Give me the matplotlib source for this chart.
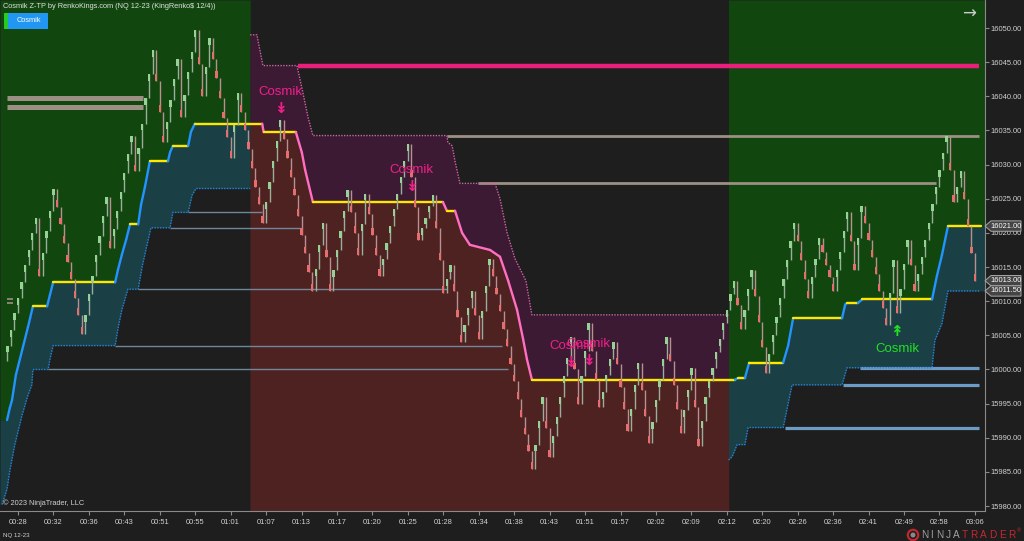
import numpy as np
import matplotlib
matplotlib.use("Agg")
import matplotlib.pyplot as plt
from matplotlib.patches import Rectangle, Polygon, Circle
from matplotlib.collections import LineCollection
import matplotlib.transforms as mtransforms

plt.rcParams['font.family'] = ['Liberation Sans', 'DejaVu Sans']

# ---------------- data ----------------
time_labels = ['00:28', '00:32', '00:36', '00:43', '00:51', '00:55', '01:01', '01:07',
               '01:13', '01:17', '01:20', '01:25', '01:28', '01:34', '01:38', '01:43',
               '01:51', '01:57', '02:02', '02:09', '02:12', '02:20', '02:26', '02:36',
               '02:41', '02:49', '02:58', '03:06']
time_tick_bars = list(range(5, 276, 10))
price_ticks = [15980, 15985, 15990, 15995, 16000, 16005, 16010, 16015, 16020,
               16025, 16030, 16035, 16040, 16045, 16050]

first_bar = 2
first_open = 16001.25
closes = [
    16003.5, 16005.75, 16008.25, 16010.5, 16012.75, 16015.25, 16017.5, 16020.0, 16022.25, 16013.75,
    16017.0, 16020.25, 16023.25, 16026.5, 16023.75, 16021.25, 16018.5, 16015.75, 16013.25, 16010.5,
    16008.0, 16005.25, 16008.0, 16011.0, 16013.75, 16016.75, 16019.5, 16022.5, 16025.25, 16017.75,
    16020.5, 16023.25, 16026.0, 16028.75, 16031.5, 16034.25, 16029.0, 16032.5, 16036.0, 16039.75,
    16043.25, 16046.75, 16042.25, 16037.75, 16033.25, 16036.25, 16039.5, 16042.5, 16045.5, 16037.0,
    16040.25, 16043.5, 16046.5, 16049.75, 16044.75, 16040.0, 16044.25, 16048.5, 16045.5, 16042.75,
    16039.75, 16036.75, 16034.0, 16031.0, 16035.75, 16040.5, 16037.75, 16035.0, 16032.25, 16029.5,
    16026.75, 16024.25, 16021.5, 16024.5, 16027.5, 16030.5, 16033.5, 16036.5, 16033.75, 16031.0,
    16028.25, 16025.5, 16022.5, 16019.75, 16017.0, 16014.25, 16011.5, 16014.75, 16018.25, 16021.5,
    16016.5, 16011.5, 16014.5, 16017.5, 16020.25, 16023.25, 16026.25, 16023.0, 16020.0, 16016.75,
    16021.25, 16025.75, 16022.75, 16019.75, 16016.75, 16013.75, 16016.25, 16018.5, 16021.0, 16023.5,
    16025.75, 16028.25, 16030.5, 16033.0, 16028.25, 16023.75, 16019.0, 16020.75, 16022.25, 16024.0,
    16025.5, 16020.75, 16016.0, 16011.25, 16013.25, 16015.25, 16011.5, 16007.75, 16004.0, 16006.5,
    16009.0, 16011.5, 16008.0, 16004.5, 16008.5, 16012.25, 16016.25, 16013.75, 16011.0, 16008.5,
    16006.0, 16003.5, 16000.75, 15998.25, 15995.75, 15993.0, 15990.5, 15988.0, 15985.5, 15989.0,
    15992.5, 15996.0, 15991.5, 15987.25, 15990.25, 15993.0, 15996.0, 15999.0, 16001.75, 16004.75,
    16000.0, 15995.0, 15999.0, 16002.75, 16006.75, 16002.75, 15998.5, 15994.5, 15996.75, 15999.25,
    16001.5, 16004.0, 16000.75, 15997.5, 15994.25, 15991.0, 15994.25, 15997.75, 16001.0, 15997.0,
    15993.25, 15989.25, 15992.25, 15995.5, 15998.5, 16001.5, 16004.75, 16001.25, 15997.75, 15994.25,
    15990.75, 15994.0, 15997.0, 16000.25, 15994.5, 15988.75, 15992.5, 15996.0, 15998.25, 16000.25,
    16002.5, 16004.5, 16006.75, 16008.75, 16011.0, 16013.0, 16009.5, 16006.0, 16008.75, 16011.75,
    16014.5, 16010.75, 16007.0, 16003.25, 15999.5, 16002.25, 16005.0, 16007.75, 16010.5, 16013.25,
    16016.0, 16018.75, 16021.5, 16018.75, 16016.0, 16013.25, 16010.5, 16013.5, 16016.25, 16019.25,
    16017.25, 16015.25, 16013.5, 16011.5, 16014.5, 16017.25, 16020.25, 16023.0, 16018.75, 16014.5,
    16019.25, 16024.0, 16021.5, 16019.0, 16016.5, 16014.0, 16011.5, 16009.0, 16006.5, 16011.25,
    16016.0, 16008.25, 16011.75, 16015.5, 16019.0, 16015.25, 16011.5, 16014.0, 16016.5, 16019.0,
    16021.5, 16024.25, 16026.75, 16029.25, 16031.75, 16034.25, 16029.25, 16024.5, 16026.75, 16029.0,
    16025.0, 16021.0, 16017.0, 16013.0,
]

# trailing stop line (bar position, price)
stop_x = [1.9, 2.7, 3.3, 4.4, 7.8, 8.4, 9.2, 13.2, 14.0, 14.9, 32.4, 33.2, 34.3, 35.5, 36.6,
          38.9, 39.7, 40.8, 42.2, 47.3, 47.9, 48.7, 53.0, 53.8, 54.9, 73.9, 74.3, 83.4, 85.1,
          86.0, 88.2, 124.9, 126.0, 128.3, 130.3, 132.5, 138.2, 141.0, 143.3, 145.8, 147.5,
          148.6, 150.0, 207.3, 208.2, 210.1, 211.3, 220.9, 222.3, 223.7, 237.5, 238.4, 238.9,
          242.0, 243.2, 262.9, 264.3, 265.7, 267.4, 276.6]
stop_p = [15992.6, 15994.4, 15995.5, 15999.2, 16006.2, 16007.5, 16009.25, 16009.25, 16010.9,
          16012.75, 16012.75, 16014.6, 16016.8, 16019.0, 16021.25, 16021.25, 16024.1, 16026.7,
          16030.5, 16030.5, 16031.8, 16032.75, 16032.75, 16034.8, 16036.0, 16036.0, 16034.75,
          16034.75, 16031.75, 16029.25, 16024.5, 16024.5, 16023.25, 16023.25, 16020.0, 16018.25,
          16017.5, 16016.5, 16013.0, 16008.75, 16004.5, 16001.5, 15998.5, 15998.5, 15998.75,
          15998.75, 16001.0, 16001.0, 16003.5, 16007.5, 16007.5, 16009.5, 16009.75, 16009.75,
          16010.25, 16010.25, 16013.75, 16016.75, 16021.0, 16021.0]

# outer band, bullish left
bandL_x = [0.5, 1.9, 2.7, 4.1, 6.1, 7.8, 8.9, 9.2, 13.5, 14.0, 14.9, 32.4, 33.2, 34.3, 36.0,
           38.9, 40.0, 41.4, 42.5, 47.9, 48.7, 53.0, 54.1, 55.2, 70.5]
bandL_p = [15980.25, 15982.5, 15985.25, 15989.0, 15993.25, 15996.25, 15997.75, 16000.0,
           16000.0, 16001.5, 16003.5, 16003.5, 16006.0, 16008.75, 16011.75, 16011.75, 16015.0,
           16018.25, 16020.75, 16020.75, 16023.0, 16023.0, 16025.5, 16026.5, 16026.5]
# outer band, bearish middle
bandM_x = [70.5, 72.4, 74.1, 83.7, 85.4, 86.8, 88.2, 126.0, 126.3, 127.5, 128.3, 129.7, 139.6,
           141.0, 143.0, 145.2, 148.3, 150.0, 205.5]
bandM_p = [16049.0, 16049.0, 16044.5, 16044.5, 16040.5, 16037.0, 16034.25, 16034.25, 16033.25,
           16032.75, 16030.5, 16027.25, 16027.25, 16025.0, 16020.0, 16016.25, 16013.0, 16008.0,
           16008.0]
# outer band, bullish right
bandR_x = [205.5, 206.5, 207.9, 210.1, 211.0, 220.9, 223.4, 237.5, 238.9, 262.9, 263.7, 265.7,
           267.4, 276.6]
bandR_p = [15986.75, 15987.25, 15989.0, 15989.0, 15991.5, 15991.5, 15997.75, 15997.75,
           16000.25, 16000.25, 16004.25, 16006.75, 16011.5, 16011.5]

regime_switch = [70.5, 205.5]   # bull -> bear -> bull

# support / resistance levels
thin_lv_p = [16000.0, 16003.5, 16011.75, 16020.75, 16023.0]
thin_lv_start = [13.5, 32.4, 38.9, 47.9, 53.0]
thin_lv_end = [143.3, 141.6, 126.0, 84.6, 73.8]

blue_lv_p = [16000.25, 15997.75, 15991.5]
blue_lv_start = [242.6, 237.8, 221.4]
blue_lv_end = [276.2, 276.2, 276.2]

tan_lv_p = [16039.75, 16038.5, 16034.25, 16027.25, 16010.25, 16009.75]
tan_lv_start = [1.9, 1.9, 126.0, 134.8, 1.9, 1.9]
tan_lv_end = [40.3, 40.3, 276.2, 264.0, 3.6, 3.6]

pink_lv_p = [16044.5]
pink_lv_start = [84.0]
pink_lv_end = [276.2]

# signals
sig_bars = [79, 116, 161, 166, 253]
sig_price = [16038.25, 16026.75, 16001.0, 16001.25, 16005.5]
sig_up = [False, False, False, False, True]

price_tags = [16021.00, 16013.00, 16011.50]

# ---------------- style ----------------
BG = '#1e1e1e'
GREEN = '#11470f'
TEAL = '#1a4046'
PURPLE = '#3c1a33'
MAROON = '#4f2222'
W, H = 1024, 541
AX_W, AX_H = 985, 511
YLIM = (15979.28, 16054.10)
XLIM = (-0.085, 277.85)
BODY = 1.0
SMALL = 5.4

fig = plt.figure(figsize=(W / 100, H / 100), dpi=100, facecolor=BG)
ax = fig.add_axes([0, (H - AX_H) / H, AX_W / W, AX_H / H], facecolor=BG)
ax.set_xlim(*XLIM)
ax.set_ylim(*YLIM)

# regime fills
xs = np.linspace(XLIM[0], XLIM[1], 8000)
eps = (XLIM[1] - XLIM[0]) / 8000 * 1.5
stop_i = np.interp(xs, stop_x, stop_p)
bL = np.interp(xs, bandL_x, bandL_p)
bM = np.interp(xs, bandM_x, bandM_p)
bR = np.interp(xs, bandR_x, bandR_p)
mL = xs <= regime_switch[0] + eps
mM = (xs >= regime_switch[0] - eps) & (xs <= regime_switch[1] + eps)
mR = xs >= regime_switch[1] - eps
kw = dict(lw=0, antialiased=False, zorder=0.5)
ax.fill_between(xs, stop_i, YLIM[1], where=mL, color=GREEN, **kw)
ax.fill_between(xs, bL, stop_i, where=mL, color=TEAL, **kw)
ax.fill_between(xs, YLIM[0], stop_i, where=mM, color=MAROON, **kw)
ax.fill_between(xs, stop_i, bM, where=mM, color=PURPLE, **kw)
ax.fill_between(xs, stop_i, YLIM[1], where=mR, color=GREEN, **kw)
ax.fill_between(xs, bR, stop_i, where=mR, color=TEAL, **kw)

# dotted bands
ax.plot(bandL_x, bandL_p, color='#2a80d8', lw=1.0, ls=(0, (1, 1)), zorder=2)
ax.plot(bandR_x, bandR_p, color='#2a80d8', lw=1.0, ls=(0, (1, 1)), zorder=2)
ax.plot(bandM_x, bandM_p, color='#c8689e', lw=1.0, ls=(0, (1, 1)), zorder=2)

# levels
ax.hlines(thin_lv_p, thin_lv_start, thin_lv_end, color='#6f8798', lw=1.0, zorder=1.5)
ax.hlines(blue_lv_p, blue_lv_start, blue_lv_end, color='#6c9cc4', lw=2.3, zorder=1.5)
tan_w = [3.6, 3.6, 2.0, 2.0, 1.2, 1.2]
for p, s, e, w in zip(tan_lv_p, tan_lv_start, tan_lv_end, tan_w):
    ax.hlines(p, s, e, color='#9d8f84', lw=w, zorder=1.5)
ax.hlines(pink_lv_p, pink_lv_start, pink_lv_end, color='#e8207c', lw=3.2, zorder=1.6)

# stop line, coloured by direction
segs, cols = [], []
for k in range(len(stop_x) - 1):
    segs.append([(stop_x[k], stop_p[k]), (stop_x[k + 1], stop_p[k + 1])])
    d = stop_p[k + 1] - stop_p[k]
    cols.append('#ffe800' if d == 0 else ('#2394ff' if d > 0 else '#ff6ec0'))
ax.add_collection(LineCollection(segs, colors=cols, linewidths=1.7, zorder=3,
                                 capstyle='round'))

# renko bars
c = np.array(closes)
xb = np.arange(first_bar, first_bar + len(c))
prev = np.concatenate([[first_open], c[:-1]])
up = c >= prev
ax.vlines(xb, np.minimum(prev, c), np.maximum(prev, c),
          colors=np.where(up, '#9aae9a', '#b89090'), lw=1.0, zorder=4)
ax.bar(xb, BODY, bottom=np.where(up, c - BODY, c), width=0.65,
       color=np.where(up, '#96d296', '#e66e6e'), lw=0, zorder=4.5)

# signals
for b, p, u in zip(sig_bars, sig_price, sig_up):
    col = '#22e022' if u else '#f0208a'
    ax.text(b, p, '↟' if u else '↡', color=col, fontsize=11, ha='center', va='center',
            zorder=6, family=['DejaVu Sans'], fontweight='bold')
    ax.annotate('Cosmik', xy=(b, p), xytext=(0, -12 if u else 12), textcoords='offset points',
                color=col, fontsize=9.5, ha='center', va='center', zorder=6)

# axes styling
for s in ['top', 'left']:
    ax.spines[s].set_visible(False)
for s in ['bottom', 'right']:
    ax.spines[s].set_color('#8a8a8a')
    ax.spines[s].set_linewidth(0.8)
ax.yaxis.tick_right()
ax.set_yticks(price_ticks)
ax.set_yticklabels(['%.2f' % v for v in price_ticks])
ax.set_xticks(time_tick_bars)
ax.set_xticklabels(time_labels)
ax.tick_params(axis='both', colors='#8a8a8a', labelcolor='#d2d2d2', labelsize=SMALL,
               length=3, width=0.8)
ax.tick_params(axis='x', pad=2.5)
ax.tick_params(axis='y', pad=1.2)

# price tags on the right axis
bt = mtransforms.blended_transform_factory(fig.transFigure, ax.transData)
hh = 5.2 / (AX_H / (YLIM[1] - YLIM[0]))
for v in price_tags:
    poly = Polygon([(985 / W, v), (991 / W, v + hh), (1021 / W, v + hh), (1021 / W, v - hh),
                    (991 / W, v - hh)], closed=True, transform=bt, facecolor='#444444',
                   edgecolor='#a8a8a8', lw=0.7, clip_on=False, zorder=10)
    ax.add_patch(poly)
    ax.text(1006 / W, v, '%.2f' % v, transform=bt, color='white', fontsize=SMALL,
            ha='center', va='center', zorder=11, clip_on=False)

# header & overlays
fig.text(3 / W, 1 - 6 / H, 'Cosmik Z-TP by RenkoKings.com (NQ 12-23 (KingRenko$ 12/4))',
         color='#e0e0e0', fontsize=5.3, ha='left', va='center')
fig.add_artist(Rectangle((4 / W, 1 - 29 / H), 44 / W, 16 / H, transform=fig.transFigure,
                         facecolor='#2196f3', edgecolor='none'))
fig.add_artist(Rectangle((4 / W, 1 - 29 / H), 4 / W, 16 / H, transform=fig.transFigure,
                         facecolor='#22cc22', edgecolor='none'))
fig.text(29 / W, 1 - 21 / H, 'Cosmik', color='white', fontsize=5.3, ha='center', va='center')
fig.text(969 / W, 1 - 14 / H, '→', color='#cccccc', fontsize=12, ha='center', va='center',
         family=['DejaVu Sans'])
fig.text(3 / W, 1 - 503 / H, '© 2023 NinjaTrader, LLC', color='#d0d0d0', fontsize=5.3,
         ha='left', va='center')
fig.text(3 / W, 1 - 535 / H, 'NQ 12-23', color='#d0d0d0', fontsize=4.4, ha='left', va='center')

# NinjaTrader logo
fig.add_artist(Circle((913 / 100, (H - 535) / 100), 0.052, transform=fig.dpi_scale_trans,
                      facecolor='none', edgecolor='#c0282d', lw=1.6))
fig.add_artist(Circle((913 / 100, (H - 535) / 100), 0.025, transform=fig.dpi_scale_trans,
                      facecolor='#8a8a8a', edgecolor='none'))
letters = 'NINJATRADER'
adv = {'N': 9.6, 'I': 5.2, 'J': 7.5, 'A': 9.1, 'T': 8.6, 'R': 9.4, 'D': 9.6, 'E': 9.0}
xp = 921
for k, ch in enumerate(letters):
    fig.text(xp / W, 1 - 535 / H, ch, color='#a0a0a0' if k < 5 else '#c8282e', fontsize=7.2,
             ha='left', va='center')
    xp += adv[ch]
fig.text(xp / W, 1 - 531 / H, '®', color='#c8282e', fontsize=4, ha='left', va='center')

fig.savefig('out.png', dpi=100, facecolor=BG)
